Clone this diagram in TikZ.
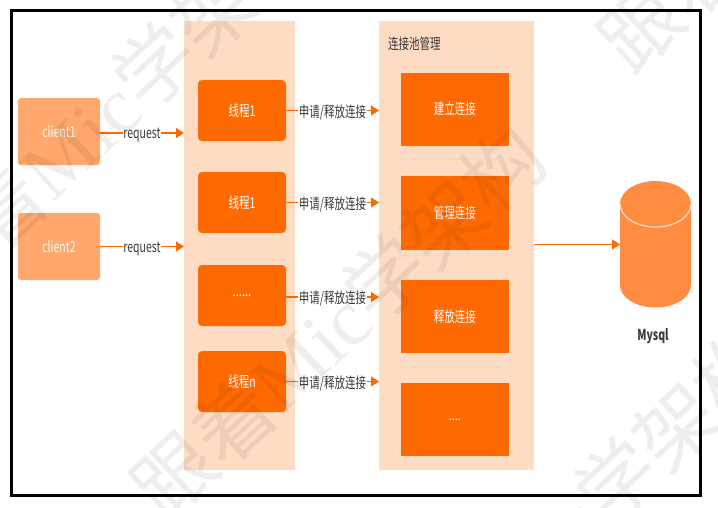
\documentclass[tikz,border=0pt]{standalone}
\usepackage{graphicx}
\usepackage{fontspec}
\setmainfont{Noto Sans CJK SC}
\newfontfamily\wmserif{Liberation Serif}
\usetikzlibrary{arrows.meta,calc}
\definecolor{panelc}{HTML}{FEDCC4}
\definecolor{deep}{HTML}{FF6A00}
\definecolor{clientc}{HTML}{FFA76C}
\definecolor{dbc}{HTML}{FF8C40}
\definecolor{inkc}{HTML}{3A3A3A}
\newcommand{\nar}[1]{\raisebox{-1pt}{\scalebox{.7}[1]{#1}}}
\tikzset{
  x=1pt,y=-1pt,
  box/.style={draw=none,inner sep=0pt,outer sep=0pt,anchor=north west,text=white,font=\fontsize{15}{17}\selectfont},
  panel/.style={box,fill=panelc},
  clientbox/.style={box,fill=clientc,rounded corners=3pt},
  threadbox/.style={box,fill=deep,rounded corners=4pt},
  poolbox/.style={box,fill=deep},
  conn/.style={draw=deep,line width=1.4pt,-{Triangle[length=8pt,width=10pt]}},
  lab/.style={fill=white,inner sep=0.5pt,text=inkc,yshift=-2pt,font=\fontsize{15}{17}\selectfont},
  wm/.style={text=black,opacity=.065,rotate=43,inner sep=0pt,font=\fontsize{80}{84}\selectfont}
}
\begin{document}
\begin{tikzpicture}
\useasboundingbox (0,0) rectangle (718,507);
\clip (0,0) rectangle (718,507);
\fill[white] (0,0) rectangle (718,507);
% panels
\node[panel,minimum width=111pt,minimum height=449pt] (threads) at (184,21) {};
\node[panel,minimum width=155pt,minimum height=449pt] (pool) at (379,21) {};
\node[anchor=west,inner sep=0pt,text=inkc,font=\fontsize{15}{17}\selectfont] (pooltitle) at (388,43.5) {\nar{连接池管理}};
% clients
\node[clientbox,minimum width=82pt,minimum height=67pt] (c1) at (18,98) {\nar{client1}};
\node[clientbox,minimum width=82pt,minimum height=67pt] (c2) at (18,213) {\nar{client2}};
% threads
\node[threadbox,minimum width=88pt,minimum height=61pt] (t1) at (198,80) {\nar{线程1}};
\node[threadbox,minimum width=88pt,minimum height=61pt] (t2) at (198,172) {\nar{线程1}};
\node[threadbox,minimum width=88pt,minimum height=61pt] (t3) at (198,265) {\raisebox{-2pt}{\scalebox{.8}[1]{\fontsize{14}{16}\selectfont ......}}};
\node[threadbox,minimum width=88pt,minimum height=61pt] (t4) at (198,351) {\nar{线程n}};
% pool boxes
\node[poolbox,minimum width=108.5pt,minimum height=72.5pt] (p1) at (400.5,73) {\nar{建立连接}};
\node[poolbox,minimum width=108.5pt,minimum height=74pt] (p2) at (400.5,176) {\nar{管理连接}};
\node[poolbox,minimum width=108.5pt,minimum height=73pt] (p3) at (400.5,280) {\nar{释放连接}};
\node[poolbox,minimum width=108.5pt,minimum height=73pt] (p4) at (400.5,383) {\scalebox{.8}[1]{\fontsize{13}{15}\selectfont ....}};
% connectors
\draw[conn] ([yshift=-1.5pt]c1.east) -- ([yshift=-1.5pt]c1.east -| threads.west) node[midway,lab] (r1) {\nar{request}};
\draw[conn] (c2.east) -- (c2.east -| threads.west) node[midway,lab] (r2) {\nar{request}};
\draw[conn] (t1.east) -- (t1.east -| pool.west) node[midway,lab] (a1) {\nar{申请/释放连接}};
\draw[conn] (t2.east) -- (t2.east -| pool.west) node[midway,lab] (a2) {\nar{申请/释放连接}};
\draw[conn] ([yshift=-1.5pt]t3.east) -- ([yshift=-1.5pt]t3.east -| pool.west) node[midway,lab] (a3) {\nar{申请/释放连接}};
\draw[conn] (t4.east) -- (t4.east -| pool.west) node[midway,lab] (a4) {\nar{申请/释放连接}};
% database
\node[inner sep=0pt,outer sep=0pt,minimum width=71pt,minimum height=127pt,anchor=north west] (db) at (620,181) {};
\fill[dbc] (620,204) -- (620,285) arc[start angle=180,end angle=360,x radius=35.5pt,y radius=22.5pt] -- (691,204) arc[start angle=0,end angle=180,x radius=35.5pt,y radius=23pt] -- cycle;
\draw[white!70!dbc,line width=1.2pt] (620,204) arc[start angle=180,end angle=360,x radius=35.5pt,y radius=23pt];
\draw[conn] (db.west -| pool.east) -- (db.west);
\node[inner sep=0pt,text=inkc,font=\bfseries\fontsize{15}{17}\selectfont] (mysql) at (653,336) {\nar{Mysql}};
% watermarks
\node[wm] (w1) at (108,110) {跟着{\wmserif Mic}学架构};
\node[wm] (w2) at (338,322) {跟着{\wmserif Mic}学架构};
\node[wm] (w3) at (570,525) {跟着{\wmserif Mic}学架构};
\node[wm] (w4) at (805,-125) {跟着{\wmserif Mic}学架构};
% frame
\node[draw=black,line width=3pt,inner sep=0pt,outer sep=0pt,minimum width=689pt,minimum height=485pt,anchor=north west] (frame) at (11,10.5) {};
\end{tikzpicture}
\end{document}
